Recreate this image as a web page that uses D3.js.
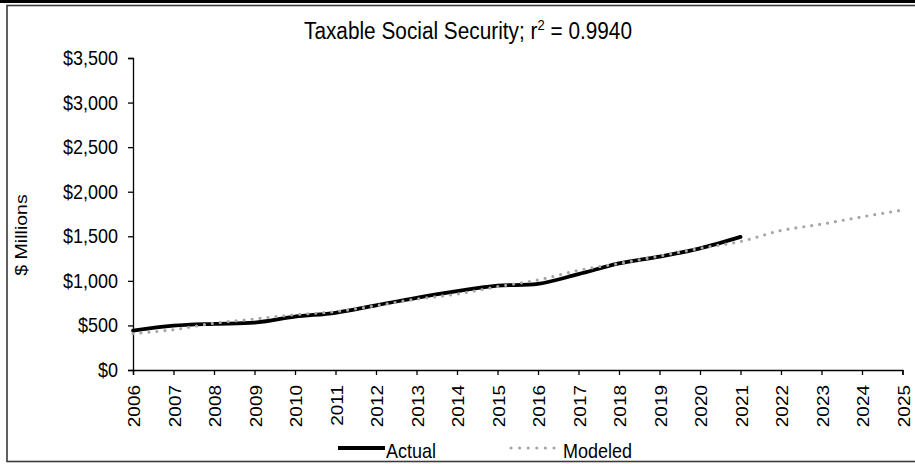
<!DOCTYPE html>
<html>
<head>
<meta charset="utf-8">
<script src="https://cdn.jsdelivr.net/npm/d3@7"></script>
<style>
  html, body { margin: 0; padding: 0; background: #fff; }
  svg { display: block; }
  text { font-family: "Liberation Sans", Arial, sans-serif; fill: #000; }
</style>
</head>
<body>
<svg id="chart" width="915" height="464"></svg>
<script>
const years = [2006,2007,2008,2009,2010,2011,2012,2013,2014,2015,2016,2017,2018,2019,2020,2021,2022,2023,2024,2025];
const actualYears = [2006,2007,2008,2009,2010,2011,2012,2013,2014,2015,2016,2017,2018,2019,2020,2021];
const actualValues = [442,497,518,531,598,642,726,810,884,946,966,1075,1195,1272,1365,1493];
const modeledValues = [408,452,525,572,620,655,722,795,852,935,1010,1118,1195,1278,1365,1442,1565,1636,1718,1795];
const yTicks = [0,500,1000,1500,2000,2500,3000,3500];
const titleMain = "Taxable Social Security; r";
const titleSup = "2";
const titleEnd = " = 0.9940";
const yLabel = "$ Millions";
const legendLabels = ["Actual", "Modeled"];

const svg = d3.select("#chart");
const W = 915, H = 464;
const SY = 1.15; // vertical text stretch seen in the reference

// outer frame
svg.append("rect").attr("x", 0).attr("y", 0).attr("width", W).attr("height", 3).attr("fill", "#000");
svg.append("rect").attr("x", 7).attr("y", 5.5).attr("width", W).attr("height", 456)
  .attr("fill", "none").attr("stroke", "#3a3a3a").attr("stroke-width", 1.6);

const x = d3.scalePoint().domain(years).range([133, 902.5]);
const y = d3.scaleLinear().domain([0, 3500]).range([370, 58]);

// title
const t = svg.append("text")
  .attr("transform", `translate(468,39) scale(1,${SY})`)
  .attr("text-anchor", "middle")
  .style("font-size", "20.8px");
t.append("tspan").text(titleMain);
t.append("tspan").attr("dy", -8).style("font-size", "13px").text(titleSup);
t.append("tspan").attr("dy", 8).text(titleEnd);

// y axis
const yAxis = svg.append("g").attr("transform", "translate(133,0)")
  .call(d3.axisLeft(y).tickValues(yTicks).tickSize(5).tickPadding(10)
    .tickFormat(d => "$" + d3.format(",")(d)));
yAxis.select(".domain").attr("stroke", "#000").attr("stroke-width", 1.3);
yAxis.selectAll(".tick line").attr("stroke", "#000").attr("stroke-width", 1.3);
yAxis.selectAll(".tick text")
  .style("font-size", "18px").style("font-family", "Liberation Sans, Arial, sans-serif")
  .attr("dy", null)
  .each(function() {
    const el = d3.select(this);
    const xx = +el.attr("x");
    el.attr("x", 0).attr("transform", `translate(${xx},6.5) scale(1,${SY})`);
  });

// x axis
const xAxis = svg.append("g").attr("transform", "translate(0,370)")
  .call(d3.axisBottom(x).tickSize(5).tickPadding(10).tickFormat(d3.format("d")));
xAxis.select(".domain").attr("stroke", "#000").attr("stroke-width", 1.3);
xAxis.selectAll(".tick line").attr("stroke", "#000").attr("stroke-width", 1.3);
xAxis.selectAll(".tick text")
  .style("font-size", "16.5px").style("font-family", "Liberation Sans, Arial, sans-serif")
  .attr("text-anchor", "end").attr("y", null).attr("dy", null)
  .attr("transform", `translate(6.5,15) rotate(-90) scale(${SY},1)`);

// y label
svg.append("text")
  .attr("transform", `translate(27,235) rotate(-90) scale(${SY},1)`)
  .attr("text-anchor", "middle")
  .style("font-size", "17px")
  .text(yLabel);

// lines
const line = d3.line().x(d => x(d[0])).y(d => y(d[1])).curve(d3.curveCatmullRom.alpha(0.5));
const modeledData = years.map((yr, i) => [yr, modeledValues[i]]);
const actualData = actualYears.map((yr, i) => [yr, actualValues[i]]);

svg.append("path").datum(actualData).attr("d", line)
  .attr("fill", "none").attr("stroke", "#000").attr("stroke-width", 3.8).attr("stroke-linecap", "round");
svg.append("path").datum(modeledData).attr("d", line)
  .attr("fill", "none").attr("stroke", "#a6a6a6").attr("stroke-width", 3.2)
  .attr("stroke-linecap", "round").attr("stroke-dasharray", "0 8");

// legend
const lg = svg.append("g");
lg.append("line").attr("x1", 338).attr("x2", 385).attr("y1", 448).attr("y2", 448)
  .attr("stroke", "#000").attr("stroke-width", 3.8);
lg.append("text").attr("transform", `translate(386,458) scale(1,${SY})`)
  .style("font-size", "18px").text(legendLabels[0]);
lg.append("line").attr("x1", 511).attr("x2", 555).attr("y1", 448).attr("y2", 448)
  .attr("stroke", "#a6a6a6").attr("stroke-width", 3.2).attr("stroke-linecap", "round")
  .attr("stroke-dasharray", "0 8.6");
lg.append("text").attr("transform", `translate(563,458) scale(1,${SY})`)
  .style("font-size", "18px").text(legendLabels[1]);
</script>
</body>
</html>
